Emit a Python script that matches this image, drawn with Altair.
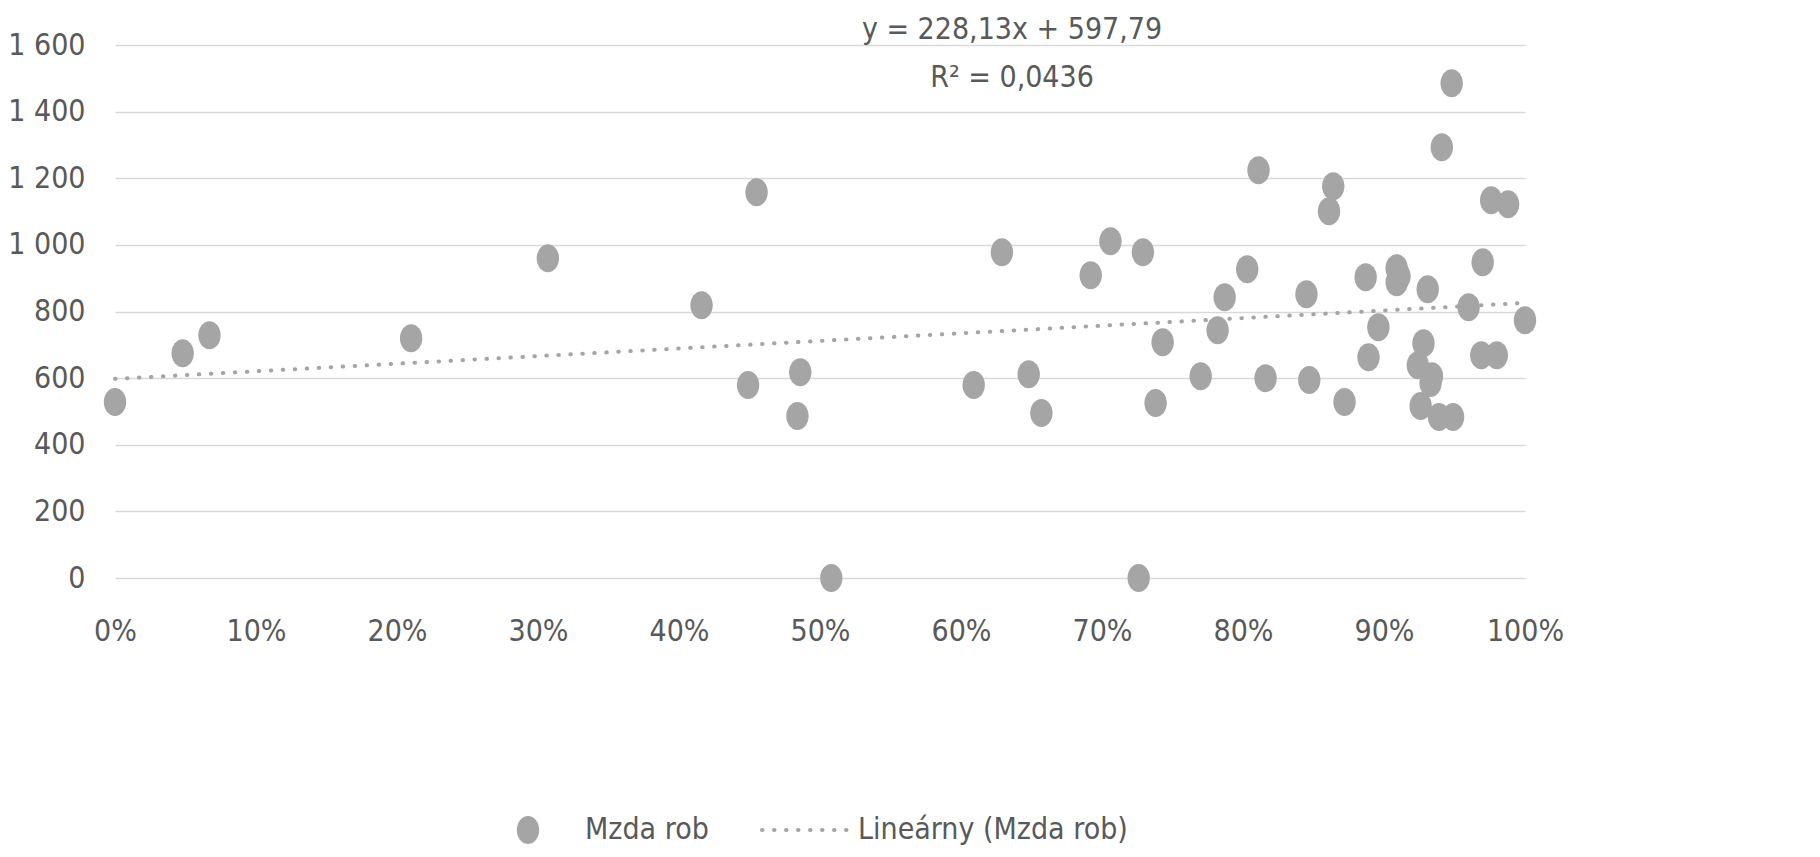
import altair as alt
import pandas as pd

# Scatter data: share (fraction 0..1) vs. wage
x_vals = [0.000, 0.048, 0.067, 0.210, 0.307, 0.416, 0.449, 0.455, 0.484, 0.486,
          0.508, 0.609, 0.629, 0.648, 0.657, 0.692, 0.706, 0.726, 0.729, 0.738,
          0.743, 0.770, 0.782, 0.787, 0.803, 0.811, 0.816, 0.845, 0.847, 0.861,
          0.864, 0.872, 0.887, 0.889, 0.896, 0.909, 0.909, 0.911, 0.924, 0.926,
          0.928, 0.931, 0.933, 0.934, 0.939, 0.941, 0.948, 0.949, 0.960, 0.969,
          0.970, 0.976, 0.980, 0.988, 1.000]
y_vals = [528, 675, 729, 720, 960, 819, 579, 1158, 486, 618,
          0, 579, 978, 612, 495, 909, 1011, 0, 978, 525,
          708, 606, 744, 843, 927, 1224, 600, 852, 594, 1101,
          1176, 528, 903, 663, 753, 888, 930, 906, 639, 516,
          705, 867, 585, 606, 483, 1293, 1485, 483, 813, 669,
          948, 1134, 669, 1122, 774]

# Trendline coefficients (from the chart's equation)
slope = 228.13
intercept = 597.79
trend_x = [0.0, 1.0]
trend_y = [intercept + slope * t for t in trend_x]

eq_lines = ["y = 228,13x + 597,79", "R² = 0,0436"]
legend_labels = ["Mzda rob", "Lineárny (Mzda rob)"]

y_ticks = [0, 200, 400, 600, 800, 1000, 1200, 1400, 1600]
x_ticks = [i / 10 for i in range(11)]

FONT = "DejaVu Sans Condensed, Roboto, sans-serif"
TXT = "#595959"
PT = "#a5a5a5"
FS = 30

df = pd.DataFrame({"x": x_vals, "y": y_vals})
tdf = pd.DataFrame({"x": trend_x, "y": trend_y})

xscale = alt.Scale(domain=[0, 1], nice=False, zero=False)
yscale = alt.Scale(domain=[0, 1600], nice=False)

ellipse = "M -0.8 0 A 0.8 1 0 1 0 0.8 0 A 0.8 1 0 1 0 -0.8 0 Z"

xaxis = alt.Axis(values=x_ticks, format=".0%", title=None, grid=False, ticks=False,
                 domain=False, labelFont=FONT, labelFontSize=FS, labelColor=TXT,
                 labelPadding=38, labelFlush=False)
yaxis = alt.Axis(values=y_ticks, title=None, grid=True, gridColor="#d9d9d9",
                 gridWidth=1.5, ticks=False, domain=False, labelFont=FONT,
                 labelFontSize=FS, labelColor=TXT, labelPadding=30,
                 labelExpr="replace(format(datum.value, ',d'), ',', ' ')")

points = alt.Chart(df).mark_point(shape=ellipse, filled=True, size=784,
                                  color=PT, opacity=1).encode(
    x=alt.X("x:Q", scale=xscale, axis=xaxis),
    y=alt.Y("y:Q", scale=yscale, axis=yaxis),
)

trend = alt.Chart(tdf).mark_line(color=PT, strokeWidth=4, strokeDash=[0.5, 11.5],
                                 strokeCap="round").encode(
    x=alt.X("x:Q", scale=xscale),
    y=alt.Y("y:Q", scale=yscale),
)

eq_df = pd.DataFrame({"t": eq_lines, "py": [-15, 33]})
eq = alt.Chart(eq_df).mark_text(font=FONT, fontSize=FS, color=TXT, align="center",
                                baseline="middle").encode(
    x=alt.value(897), y=alt.Y("py:Q", scale=None), text="t:N")

leg_dot = alt.Chart(pd.DataFrame({"a": [0]})).mark_point(
    shape=ellipse, filled=True, size=784, color=PT, opacity=1).encode(
    x=alt.value(413), y=alt.value(785))
leg_line = alt.Chart(pd.DataFrame({"a": [0]})).mark_rule(
    color=PT, strokeWidth=4, strokeDash=[0.5, 11.5], strokeCap="round").encode(
    x=alt.value(647), x2=alt.value(735), y=alt.value(785))
leg_txt_df = pd.DataFrame({"t": legend_labels, "px": [470, 743]})
leg_txt = alt.Chart(leg_txt_df).mark_text(font=FONT, fontSize=FS, color=TXT,
                                          align="left", baseline="middle").encode(
    x=alt.X("px:Q", scale=None), y=alt.value(785), text="t:N")

chart = alt.layer(trend, points, eq, leg_dot, leg_line, leg_txt).properties(
    width=1410, height=533,
    autosize=alt.AutoSizeParams(type="none"),
    padding={"left": 107, "top": 37, "right": 280, "bottom": 270},
).configure(background="white", view=alt.ViewConfig(stroke=None, strokeWidth=0))

chart.save("out.html", embed_options={"renderer": "svg", "actions": False})
